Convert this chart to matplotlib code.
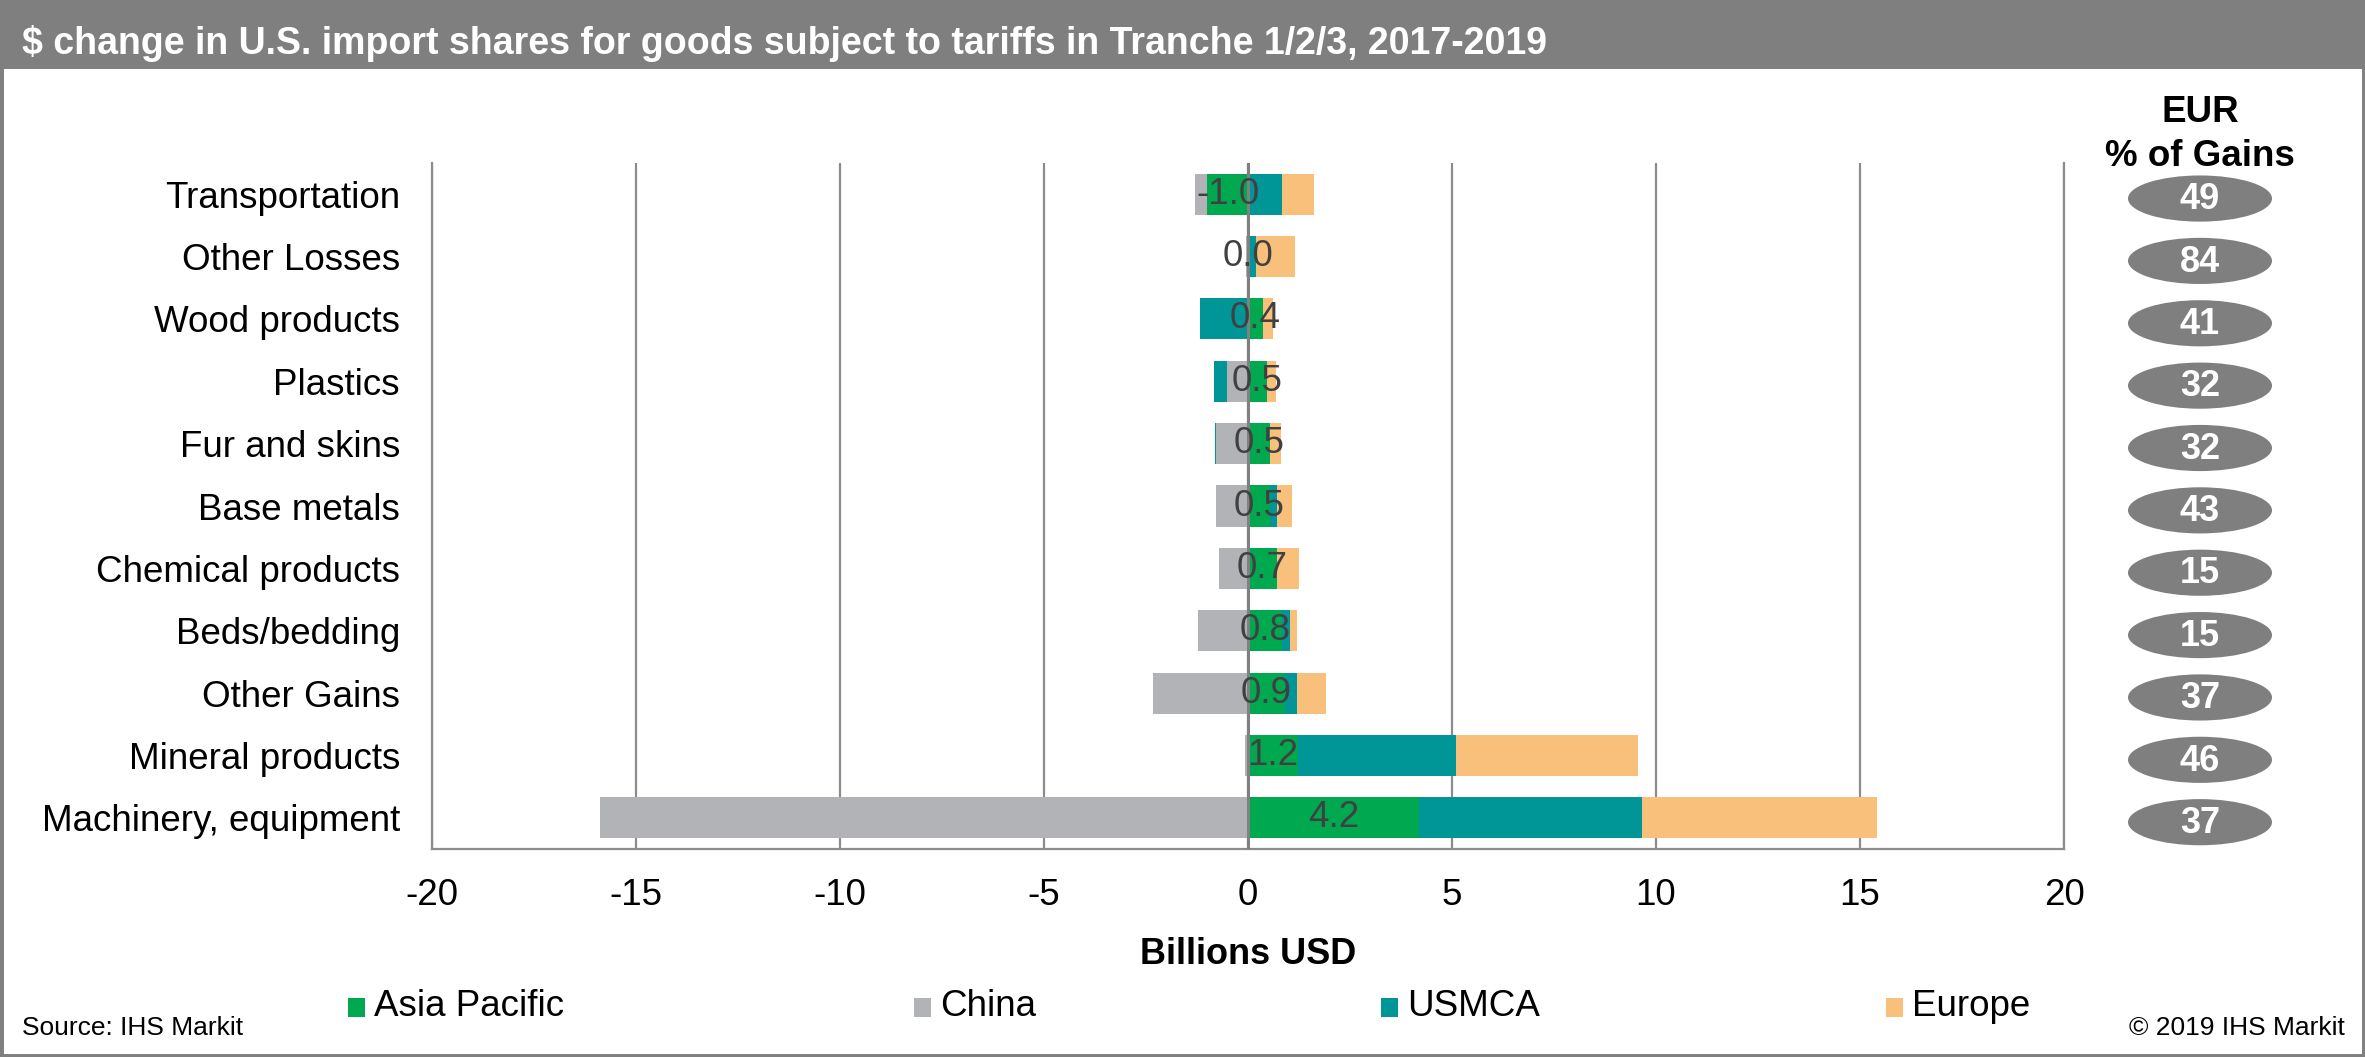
import numpy as np
import matplotlib as mpl
import matplotlib.pyplot as plt
from matplotlib.patches import Ellipse, Rectangle

mpl.rcParams["font.family"] = ["Liberation Sans", "DejaVu Sans"]
mpl.rcParams["axes.unicode_minus"] = False

W, H = 2365, 1057

# ===== Data =====
categories = ["Transportation", "Other Losses", "Wood products", "Plastics",
              "Fur and skins", "Base metals", "Chemical products", "Beds/bedding",
              "Other Gains", "Mineral products", "Machinery, equipment"]
asia_pacific = [-1.0, 0.0, 0.36, 0.46, 0.54, 0.54, 0.70, 0.83, 0.91, 1.22, 4.2]
china = [-0.31, -0.06, 0.0, -0.51, -0.78, -0.78, -0.70, -1.22, -2.34, -0.07, -15.88]
usmca = [0.83, 0.19, -1.18, -0.32, -0.02, 0.17, 0.02, 0.20, 0.29, 3.89, 5.46]
europe = [0.79, 0.96, 0.25, 0.22, 0.26, 0.36, 0.54, 0.18, 0.72, 4.44, 5.75]
eur_share = [49, 84, 41, 32, 32, 43, 15, 15, 37, 46, 37]

series = [("Asia Pacific", asia_pacific, "#00A94F"),
          ("China", china, "#B1B3B6"),
          ("USMCA", usmca, "#009597"),
          ("Europe", europe, "#F8C07A")]

# ===== Figure =====
fig = plt.figure(figsize=(W / 100, H / 100), dpi=100)

def px(x, y):
    return x / W, 1 - y / H

# frame + title bar
fig.add_artist(Rectangle((0, 0), 1, 1, transform=fig.transFigure,
                         facecolor="none", edgecolor="#808080", lw=5))
fig.add_artist(Rectangle(px(0, 69), 1, 69 / H, transform=fig.transFigure,
                         facecolor="#7F7F7F", edgecolor="none"))
fig.text(*px(22, 43), "$ change in U.S. import shares for goods subject to tariffs in Tranche 1/2/3, 2017-2019",
         color="white", fontsize=27, fontweight="bold", ha="left", va="center")

# ===== Bars =====
ax_l, ax_r, ax_t, ax_b = 432, 2064, 163, 849
ax = fig.add_axes([ax_l / W, 1 - ax_b / H, (ax_r - ax_l) / W, (ax_b - ax_t) / H])
y = np.arange(len(categories))
pos = np.zeros(len(categories))
neg = np.zeros(len(categories))
containers = []
for name, vals, color in series:
    vals = np.array(vals)
    left = np.where(vals >= 0, pos, neg)
    c = ax.barh(y, vals, left=left, height=0.66, color=color, label=name, zorder=2)
    containers.append(c)
    pos += np.clip(vals, 0, None)
    neg += np.clip(vals, None, 0)

ax.bar_label(containers[0], labels=[f"{v:.1f}" for v in asia_pacific],
             label_type="center", fontsize=26.5, color="#404040", zorder=5)

ax.set_xlim(-20, 20)
ax.set_ylim(len(categories) - 0.5, -0.5)
ax.set_xticks(np.arange(-20, 21, 5))
ax.set_yticks(y, categories)
ax.tick_params(axis="both", length=0, labelsize=26.5)
ax.tick_params(axis="y", pad=23)
ax.tick_params(axis="x", pad=21)
ax.grid(axis="x", color="#8C8C8C", lw=1.6, zorder=0)
ax.set_axisbelow(True)
ax.axvline(0, color="#808080", lw=2.2, zorder=3)
ax.spines["top"].set_visible(False)
for s in ["left", "right", "bottom"]:
    ax.spines[s].set_color("#8C8C8C")
    ax.spines[s].set_linewidth(1.6)

fig.text(*px(1248, 955), "Billions USD", fontsize=26, fontweight="bold",
         ha="center", va="center")

# ===== EUR % of gains =====
ax2 = fig.add_axes([2100 / W, 1 - ax_b / H, 200 / W, (ax_b - ax_t) / H])
ax2.set_xlim(0, 1)
ax2.set_ylim(len(categories) - 0.5, -0.5)
ax2.axis("off")
for i, v in enumerate(eur_share):
    ax2.add_patch(Ellipse((0.5, i + 0.07), 0.72, 0.74, facecolor="#7F7F7F", edgecolor="none"))
    ax2.text(0.5, i + 0.09, str(v), color="white", fontsize=26, fontweight="bold",
             ha="center", va="center")
fig.text(*px(2200, 112), "EUR", fontsize=26.5, fontweight="bold", ha="center", va="center")
fig.text(*px(2200, 156), "% of Gains", fontsize=26.5, fontweight="bold", ha="center", va="center")

# ===== Legend =====
legend_x = [348, 914, 1381, 1886]
for (name, _, color), lx in zip(series, legend_x):
    fig.add_artist(Rectangle(px(lx, 1017), 17 / W, 19 / H, transform=fig.transFigure,
                             facecolor=color, edgecolor="none"))
    fig.text(*px(lx + 26, 1007), name, fontsize=26.5, ha="left", va="center")

fig.text(*px(22, 1028), "Source: IHS Markit", fontsize=19, ha="left", va="center")
fig.text(*px(2345, 1028), "© 2019 IHS Markit", fontsize=19, ha="right", va="center")

plt.savefig("out.png", dpi=100)
